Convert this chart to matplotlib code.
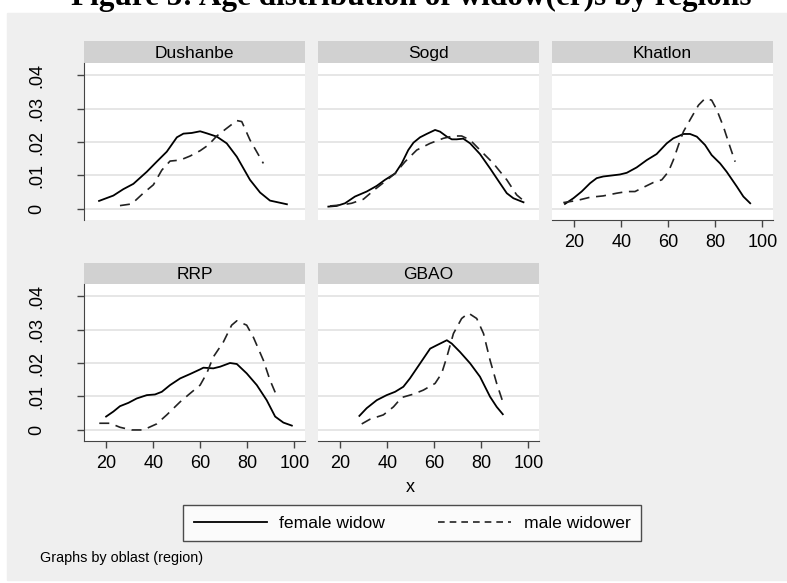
import matplotlib.pyplot as plt
from matplotlib.patches import Rectangle
from matplotlib.lines import Line2D

plt.rcParams['font.family'] = ['Liberation Sans', 'DejaVu Sans']

# kernel density of age
regions = ["Dushanbe", "Sogd", "Khatlon", "RRP", "GBAO"]

dush_f_age = [16.9, 23.0, 27.2, 31.5, 37.2, 41.4, 45.7, 50.0, 52.8, 56.3, 59.9, 62.7, 67.0, 71.2, 75.5, 81.1, 85.4, 89.6, 96.8]
dush_f_den = [.0024, .0040, .0059, .0075, .0111, .0141, .0171, .0214, .0225, .0227, .0232, .0226, .0216, .0196, .0156, .0087, .0049, .0025, .0014]
dush_m_age = [25.8, 30.8, 35.7, 40.0, 43.6, 47.1, 51.4, 55.6, 59.9, 63.4, 67.0, 71.2, 75.5, 77.6, 81.1, 86.8]
dush_m_den = [.0010, .0015, .0047, .0072, .0116, .0143, .0146, .0158, .0174, .0191, .0218, .0241, .0264, .0261, .0206, .0136]

sogd_f_age = [14.9, 18.4, 22.0, 26.2, 31.2, 35.5, 39.0, 43.3, 46.1, 48.9, 51.1, 53.9, 56.7, 60.3, 62.4, 65.3, 67.4, 69.5, 72.3, 75.2, 79.4, 83.7, 87.9, 90.8, 93.6, 97.9]
sogd_f_den = [.0007, .0009, .0017, .0037, .0052, .0069, .0087, .0106, .0136, .0176, .0198, .0214, .0224, .0236, .0231, .0216, .0208, .0208, .0210, .0196, .0164, .0121, .0077, .0047, .0032, .0020]
sogd_m_age = [15.6, 20.6, 24.8, 29.8, 34.8, 39.0, 43.3, 47.5, 52.5, 58.2, 63.8, 68.1, 71.6, 75.2, 79.4, 85.1, 90.8, 95.0, 97.2]
sogd_m_den = [.0009, .0012, .0017, .0029, .0059, .0082, .0106, .0141, .0176, .0196, .0211, .0218, .0218, .0206, .0176, .0136, .0087, .0042, .0029]

khat_f_age = [16.0, 19.6, 23.1, 26.7, 29.5, 32.3, 35.9, 39.4, 42.3, 46.5, 50.8, 55.0, 59.3, 62.1, 66.4, 69.2, 72.1, 75.6, 78.4, 82.0, 84.8, 89.1, 91.9, 94.8]
khat_f_den = [.0015, .0032, .0052, .0077, .0092, .0097, .0100, .0103, .0108, .0124, .0146, .0164, .0196, .0211, .0224, .0224, .0216, .0191, .0161, .0136, .0111, .0067, .0037, .0017]
khat_m_age = [15.3, 21.0, 26.7, 32.3, 38.0, 42.3, 45.8, 50.1, 53.6, 57.2, 60.0, 62.1, 64.3, 66.4, 69.2, 72.8, 75.6, 78.4, 80.6, 83.4, 86.2, 88.4]
khat_m_den = [.0019, .0025, .0035, .0039, .0047, .0052, .0052, .0067, .0079, .0087, .0111, .0146, .0191, .0231, .0266, .0310, .0330, .0325, .0296, .0246, .0186, .0141]

rrp_f_age = [19.9, 23.0, 25.8, 29.4, 32.9, 37.2, 40.7, 43.6, 47.1, 51.4, 55.6, 59.9, 61.3, 65.5, 68.4, 72.6, 75.5, 79.7, 84.0, 88.2, 91.8, 95.3, 98.9]
rrp_f_den = [.0040, .0055, .0071, .0081, .0094, .0104, .0106, .0114, .0134, .0154, .0167, .0181, .0186, .0184, .0189, .0200, .0197, .0169, .0134, .0089, .0040, .0022, .0013]
rrp_m_age = [17.0, 21.6, 25.8, 30.8, 35.7, 41.4, 45.7, 51.4, 55.6, 59.9, 62.7, 65.5, 69.8, 73.3, 75.5, 79.7, 82.6, 86.8, 89.6, 91.9]
rrp_m_den = [.0020, .0020, .0008, .0000, .0000, .0018, .0045, .0084, .0109, .0134, .0169, .0218, .0263, .0313, .0326, .0313, .0276, .0208, .0149, .0111]

gbao_f_age = [28.1, 31.2, 35.5, 39.7, 43.3, 46.8, 49.6, 52.5, 55.3, 58.2, 61.0, 65.3, 67.4, 70.9, 75.2, 79.4, 83.7, 86.5, 89.1]
gbao_f_den = [.0042, .0065, .0089, .0104, .0114, .0129, .0154, .0184, .0213, .0243, .0253, .0268, .0258, .0233, .0199, .0159, .0099, .0069, .0047]
gbao_m_age = [29.1, 32.6, 38.3, 42.6, 46.1, 51.1, 55.3, 60.3, 63.1, 65.3, 68.1, 71.6, 74.5, 78.0, 80.9, 83.7, 86.5, 89.1]
gbao_m_den = [.0018, .0032, .0045, .0069, .0097, .0107, .0119, .0139, .0169, .0218, .0288, .0333, .0349, .0333, .0288, .0208, .0139, .0084]

female = [(dush_f_age, dush_f_den), (sogd_f_age, sogd_f_den), (khat_f_age, khat_f_den),
          (rrp_f_age, rrp_f_den), (gbao_f_age, gbao_f_den)]
male = [(dush_m_age, dush_m_den), (sogd_m_age, sogd_m_den), (khat_m_age, khat_m_den),
        (rrp_m_age, rrp_m_den), (gbao_m_age, gbao_m_den)]

xticks = [20, 40, 60, 80, 100]
yticks = [0, .01, .02, .03, .04]
ylabels = ["0", ".01", ".02", ".03", ".04"]

W, H = 787, 583
fig = plt.figure(figsize=(W / 100, H / 100), dpi=100)
fig.patch.set_facecolor("white")
fig.patches.append(Rectangle((7 / W, 3 / H), 1 - 7 / W, (H - 16) / H,
                             transform=fig.transFigure, color="#efefef", zorder=-10))


def px_axes(left, top, width, height):
    return fig.add_axes([left / W, 1 - (top + height) / H, width / W, height / H])


col_left = [84, 318, 552]
row_top = [63, 284]
head_h = [22, 21]
pw, ph = 221, 157

for i, name in enumerate(regions):
    r, c = divmod(i, 3)
    # gray strip with region name
    hx = px_axes(col_left[c], row_top[r] - head_h[r], pw, head_h[r])
    hx.set_facecolor("#d1d1d1")
    hx.set_xticks([])
    hx.set_yticks([])
    for s in hx.spines.values():
        s.set_visible(False)
    hx.text(0.5, 0.45, name, ha="center", va="center", fontsize=12.5, transform=hx.transAxes)

    ax = px_axes(col_left[c], row_top[r], pw, ph)
    ax.set_facecolor("white")
    ax.set_xlim(10.5, 104.5)
    ax.set_ylim(-0.0033, 0.0436)
    ax.plot(*female[i], color="black", lw=1.3, solid_joinstyle="round")
    ax.plot(*male[i], color="#222222", lw=1.2, dashes=(6, 4))
    for y in yticks:
        ax.axhline(y, color="#e6e6e6", lw=1.4, zorder=0)
    ax.spines["top"].set_visible(False)
    ax.spines["right"].set_visible(False)

    if c == 0:
        ax.set_yticks(yticks)
        ax.set_yticklabels(ylabels, rotation=90, va="center", fontsize=13)
        ax.tick_params(axis="y", length=5, width=1, color="#444444", pad=23)
        ax.spines["left"].set_color("#444444")
    else:
        ax.set_yticks([])
        ax.spines["left"].set_visible(False)

    if r == 1 or c == 2:
        ax.set_xticks(xticks)
        ax.set_xticklabels([str(v) for v in xticks], fontsize=13)
        ax.tick_params(axis="x", length=5, width=1, color="#444444", pad=5)
        ax.spines["bottom"].set_color("#444444")
    else:
        ax.set_xticks([])
        ax.spines["bottom"].set_visible(False)

fig.text(410 / W, 1 - 487 / H, "x", ha="center", va="center", fontsize=13)

handles = [Line2D([], [], color="black", lw=1.3),
           Line2D([], [], color="#222222", lw=1.2, dashes=(4, 3))]
leg = fig.legend(handles, ["female widow", "male widower"], ncol=2,
                 loc="center", bbox_to_anchor=(412 / W, 1 - 523 / H),
                 frameon=True, fancybox=False, edgecolor="#222222",
                 handlelength=4.2, handletextpad=0.7, columnspacing=3.0,
                 borderpad=0.6, borderaxespad=0,
                 prop={"family": ["Liberation Sans Narrow", "Liberation Sans"], "size": 12.6})
leg.get_frame().set_linewidth(1.0)

fig.text(40 / W, 1 - 558 / H, "Graphs by oblast (region)", ha="left", va="center",
         family=["Liberation Sans Narrow", "Liberation Sans"], fontsize=10.4)

# title sits mostly above the image edge, as in the cropped reference
fig.text(411 / W, 1 - 5 / H, "Figure 5: Age distribution of widow(er)s by regions",
         ha="center", va="baseline", family=["Liberation Serif", "DejaVu Serif"],
         fontweight="bold", fontsize=22.5)

fig.savefig("out.png", dpi=100, facecolor=fig.get_facecolor())
